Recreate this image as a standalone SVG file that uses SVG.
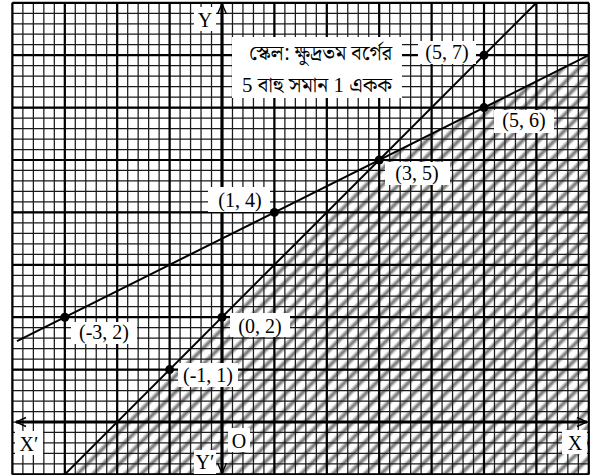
<svg xmlns="http://www.w3.org/2000/svg" width="594" height="475" viewBox="0 0 594 475">
<style>
.minor{fill:none;stroke:#1a1a1a;stroke-width:1.25}
.major{fill:none;stroke:#000;stroke-width:2.2}
.ln{fill:none;stroke:#000;stroke-width:2}
.axis{fill:none;stroke:#000;stroke-width:3.2}
.pt{fill:#000}
.bg{fill:#fff}
.lbl{font-family:"Liberation Serif","Times New Roman",serif;font-size:20px;fill:#000;text-anchor:middle}
.bn{font-family:"Noto Serif Bengali","Noto Sans Bengali","Lohit Bengali","Liberation Serif",serif;font-size:21px;fill:#000}
.dg{font-family:"Liberation Serif","Times New Roman",serif}
</style>
<defs>
<linearGradient id="sg" x1="0" y1="0" x2="1" y2="0">
<stop offset="0" stop-color="#777" stop-opacity="0"/>
<stop offset="0.2" stop-color="#777" stop-opacity="0"/>
<stop offset="0.5" stop-color="#6a6a6a" stop-opacity="1"/>
<stop offset="0.8" stop-color="#777" stop-opacity="0"/>
<stop offset="1" stop-color="#777" stop-opacity="0"/>
</linearGradient>
<pattern id="stripes" patternUnits="userSpaceOnUse" width="11.3" height="11.3" patternTransform="rotate(45)">
<rect x="0" y="0" width="11.3" height="11.3" fill="url(#sg)"/>
</pattern>
<marker id="arr" viewBox="0 0 12 12" refX="11" refY="6" markerWidth="12" markerHeight="12" markerUnits="userSpaceOnUse" orient="auto-start-reverse">
<path d="M1 1.5L11 6L1 10.5" fill="none" stroke="#000" stroke-width="1.4"/>
</marker>
</defs>
<rect x="0" y="0" width="594" height="475" fill="#fff"/>
<g id="shading">
<polygon points="64.8,474.4 379.2,160 588.8,55.2 588.8,474.4" fill="url(#stripes)"/>
</g>
<g id="grid">
<path class="minor" d="M12.4 2.8v471.6m10.48-471.6v471.6m10.48-471.6v471.6m10.48-471.6v471.6m10.48-471.6v471.6m10.48-471.6v471.6m10.48-471.6v471.6m10.48-471.6v471.6m10.48-471.6v471.6m10.48-471.6v471.6m10.48-471.6v471.6m10.48-471.6v471.6m10.48-471.6v471.6m10.48-471.6v471.6m10.48-471.6v471.6m10.48-471.6v471.6m10.48-471.6v471.6m10.48-471.6v471.6m10.48-471.6v471.6m10.48-471.6v471.6m10.48-471.6v471.6m10.48-471.6v471.6m10.48-471.6v471.6m10.48-471.6v471.6m10.48-471.6v471.6m10.48-471.6v471.6m10.48-471.6v471.6m10.48-471.6v471.6m10.48-471.6v471.6m10.48-471.6v471.6m10.48-471.6v471.6m10.48-471.6v471.6m10.48-471.6v471.6m10.48-471.6v471.6m10.48-471.6v471.6m10.48-471.6v471.6m10.48-471.6v471.6m10.48-471.6v471.6m10.48-471.6v471.6m10.48-471.6v471.6m10.48-471.6v471.6m10.48-471.6v471.6m10.48-471.6v471.6m10.48-471.6v471.6m10.48-471.6v471.6m10.48-471.6v471.6m10.48-471.6v471.6m10.48-471.6v471.6m10.48-471.6v471.6m10.48-471.6v471.6m10.48-471.6v471.6m10.48-471.6v471.6m10.48-471.6v471.6m10.48-471.6v471.6m10.48-471.6v471.6"/>
<path class="minor" d="M12.4 2.8h576.4m-576.4 10.48h576.4m-576.4 10.48h576.4m-576.4 10.48h576.4m-576.4 10.48h576.4m-576.4 10.48h576.4m-576.4 10.48h576.4m-576.4 10.48h576.4m-576.4 10.48h576.4m-576.4 10.48h576.4m-576.4 10.48h576.4m-576.4 10.48h576.4m-576.4 10.48h576.4m-576.4 10.48h576.4m-576.4 10.48h576.4m-576.4 10.48h576.4m-576.4 10.48h576.4m-576.4 10.48h576.4m-576.4 10.48h576.4m-576.4 10.48h576.4m-576.4 10.48h576.4m-576.4 10.48h576.4m-576.4 10.48h576.4m-576.4 10.48h576.4m-576.4 10.48h576.4m-576.4 10.48h576.4m-576.4 10.48h576.4m-576.4 10.48h576.4m-576.4 10.48h576.4m-576.4 10.48h576.4m-576.4 10.48h576.4m-576.4 10.48h576.4m-576.4 10.48h576.4m-576.4 10.48h576.4m-576.4 10.48h576.4m-576.4 10.48h576.4m-576.4 10.48h576.4m-576.4 10.48h576.4m-576.4 10.48h576.4m-576.4 10.48h576.4m-576.4 10.48h576.4m-576.4 10.48h576.4m-576.4 10.48h576.4m-576.4 10.48h576.4m-576.4 10.48h576.4m-576.4 10.48h576.4"/>
<path class="major" d="M12.4 2.8V474.4M64.8 2.8V474.4M117.2 2.8V474.4M169.6 2.8V474.4M274.4 2.8V474.4M326.8 2.8V474.4M379.2 2.8V474.4M431.6 2.8V474.4M484 2.8V474.4M536.4 2.8V474.4M588.8 2.8V474.4"/>
<path class="major" d="M12.4 2.8H588.8M12.4 55.2H588.8M12.4 107.6H588.8M12.4 160H588.8M12.4 212.4H588.8M12.4 264.8H588.8M12.4 317.2H588.8M12.4 369.6H588.8M12.4 474.4H588.8"/>
</g>
<g id="connectors">
<line class="ln" x1="17" y1="341.1" x2="588.8" y2="55.2"/>
<line class="ln" x1="64.8" y1="474.4" x2="536.4" y2="2.8"/>
<line class="axis" x1="16" y1="422" x2="587" y2="422" marker-start="url(#arr)" marker-end="url(#arr)"/>
<line class="axis" x1="222" y1="4" x2="222" y2="473" marker-start="url(#arr)" marker-end="url(#arr)"/>
</g>
<g id="axis-labels">
<rect class="bg" x="194" y="7" width="22" height="24"/>
<text class="lbl" x="205" y="27">Y</text>
<rect class="bg" x="194" y="450" width="22" height="24"/>
<text class="lbl" x="205" y="469">Y′</text>
<rect class="bg" x="15" y="431" width="28" height="24"/>
<text class="lbl" x="29" y="451">X′</text>
<rect class="bg" x="562" y="430" width="25" height="24"/>
<text class="lbl" x="575" y="450">X</text>
<rect class="bg" x="228" y="428" width="22" height="24"/>
<text class="lbl" x="239" y="448">O</text>
</g>
<g id="scale-note">
<rect class="bg" x="232" y="37" width="170" height="61"/>
<text class="bn" x="249" y="60" textLength="143" lengthAdjust="spacingAndGlyphs">স্কেল: ক্ষুদ্রতম বর্গের</text>
<text class="bn" x="242" y="92" textLength="150" lengthAdjust="spacingAndGlyphs"><tspan class="dg">5</tspan> বাহু সমান <tspan class="dg">1</tspan> একক</text>
</g>
<g id="p-m3-2">
<circle class="pt" cx="64.8" cy="317.2" r="4.5"/>
<rect class="bg" x="71" y="322" width="66" height="22"/>
<text class="lbl" x="104" y="339">(-3, 2)</text>
</g>
<g id="p-m1-1">
<circle class="pt" cx="169.6" cy="369.6" r="4.5"/>
<rect class="bg" x="178" y="363" width="60" height="24"/>
<text class="lbl" x="208" y="382">(-1, 1)</text>
</g>
<g id="p-0-2">
<circle class="pt" cx="222" cy="317.2" r="4.5"/>
<rect class="bg" x="230" y="313" width="60" height="24"/>
<text class="lbl" x="260" y="333">(0, 2)</text>
</g>
<g id="p-1-4">
<circle class="pt" cx="274.4" cy="212.4" r="4.5"/>
<rect class="bg" x="208" y="187" width="62" height="25"/>
<text class="lbl" x="240" y="207">(1, 4)</text>
</g>
<g id="p-3-5">
<circle class="pt" cx="379.2" cy="160" r="4.5"/>
<rect class="bg" x="385" y="162" width="65" height="23"/>
<text class="lbl" x="417" y="180">(3, 5)</text>
</g>
<g id="p-5-6">
<circle class="pt" cx="484" cy="107.6" r="4.5"/>
<rect class="bg" x="494" y="110" width="60" height="23"/>
<text class="lbl" x="524" y="127">(5, 6)</text>
</g>
<g id="p-5-7">
<circle class="pt" cx="484" cy="55.2" r="4.5"/>
<rect class="bg" x="418" y="41" width="58" height="23"/>
<text class="lbl" x="447" y="59">(5, 7)</text>
</g>
</svg>
